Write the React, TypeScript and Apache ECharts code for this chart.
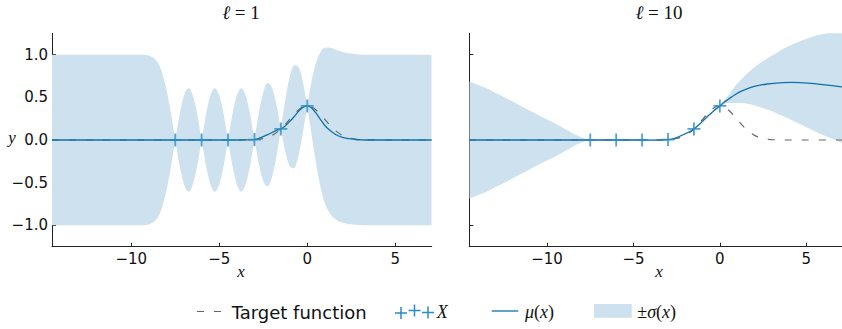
import React, { useEffect, useRef } from "react";
import * as echarts from "echarts";

// ---------- data ----------
const xTicks = [-10, -5, 0, 5];
const yTicks = [-1, -0.5, 0, 0.5, 1];

// observations X
const obsX = [-7.5, -6, -4.5, -3, -1.5, 0];
const obsY = [0, 0, 0, 0.0044, 0.1295, 0.3989];

// target function (dashed)
const targetX = [-14.5, -5, -4.5, -4, -3.5, -3, -2.75, -2.5, -2.25, -2, -1.75, -1.5, -1.25, -1, -0.75, -0.5, -0.25, 0,
  0.25, 0.5, 0.75, 1, 1.25, 1.5, 1.75, 2, 2.25, 2.5, 2.75, 3, 3.5, 4, 4.5, 5, 7.07];
const targetY = [0, 0, 0, 0.0001, 0.0009, 0.0044, 0.0091, 0.0175, 0.0317, 0.054, 0.0863, 0.1295, 0.1826, 0.242, 0.3011, 0.3521, 0.3867, 0.3989,
  0.3867, 0.3521, 0.3011, 0.242, 0.1826, 0.1295, 0.0863, 0.054, 0.0317, 0.0175, 0.0091, 0.0044, 0.0009, 0.0001, 0, 0, 0];

// panel l = 1
const x1 = [-14.5, -12, -10, -9.75, -9.5, -9.25, -9, -8.75, -8.5, -8.25, -8, -7.75, -7.5,
  -7.25, -7, -6.75, -6.5, -6.25, -6,
  -5.75, -5.5, -5.25, -5, -4.75, -4.5,
  -4.25, -4, -3.75, -3.5, -3.25, -3,
  -2.75, -2.5, -2.25, -2, -1.75, -1.5,
  -1.25, -1, -0.75, -0.5, -0.25, 0,
  0.25, 0.5, 0.75, 1, 1.25, 1.5, 1.75, 2, 2.25, 2.5, 2.75, 3, 3.5, 4, 5, 6, 7.07];
const mean1 = [0, 0, 0, 0, 0, 0, 0, 0, 0, 0, 0, 0, 0,
  0, 0, 0, 0, 0, 0,
  0, 0, 0, 0, 0, 0,
  0, 0, 0, 0.001, 0.002, 0.004,
  0.02, 0.04, 0.062, 0.088, 0.112, 0.1295,
  0.165, 0.215, 0.272, 0.335, 0.382, 0.399,
  0.375, 0.315, 0.24, 0.17, 0.12, 0.08, 0.05, 0.032, 0.02, 0.012, 0.006, 0.003, 0, 0, 0, 0, 0];
const sigma1 = [1, 1, 1, 1, 1, 0.998, 0.99, 0.965, 0.91, 0.79, 0.59, 0.32, 0,
  0.3, 0.52, 0.605, 0.52, 0.3, 0,
  0.3, 0.52, 0.605, 0.52, 0.3, 0,
  0.3, 0.52, 0.605, 0.52, 0.3, 0,
  0.3, 0.52, 0.605, 0.52, 0.3, 0,
  0.3, 0.52, 0.605, 0.52, 0.3, 0,
  0.32, 0.59, 0.79, 0.91, 0.965, 0.99, 0.998, 1, 1, 1, 1, 1, 1, 1, 1, 1, 1];

// panel l = 10
const x10 = [-14.5, -14, -13.5, -13, -12.5, -12, -11.5, -11, -10.5, -10, -9.5, -9, -8.5, -8, -7.5,
  -6.75, -6, -5.25, -4.5, -3.75, -3,
  -2.625, -2.25, -1.875, -1.5, -1.125, -0.75, -0.375, 0,
  0.25, 0.5, 0.85, 1.25, 1.8, 2.25, 2.74, 3.25, 3.68, 4.15, 4.63, 5.1, 5.57, 6.1, 6.63, 7.07];
const mean10 = [0, 0, 0, 0, 0, 0, 0, 0, 0, 0, 0, 0, 0, 0, 0,
  0, 0, 0, 0, -0.001, 0.004,
  0.02, 0.05, 0.085, 0.1295, 0.195, 0.27, 0.338, 0.399,
  0.442, 0.478, 0.528, 0.572, 0.617, 0.64, 0.656, 0.667, 0.673, 0.675, 0.673, 0.667, 0.658, 0.647, 0.634, 0.622];
const sigma10 = [0.684, 0.645, 0.605, 0.555, 0.505, 0.45, 0.395, 0.345, 0.29, 0.24, 0.19, 0.135, 0.075, 0.03, 0,
  0.012, 0, 0.012, 0, 0.01, 0,
  0.006, 0.008, 0.006, 0, 0.004, 0.005, 0.004, 0,
  0.02, 0.045, 0.095, 0.14, 0.2, 0.25, 0.3, 0.35, 0.395, 0.44, 0.485, 0.525, 0.565, 0.6, 0.63, 0.655];

// ---------- styles ----------
const BAND = "#cde2ee";
const MEAN = "#1170aa";
const MARK = "#2b8bc5";
const TARGET = "#666666";
const AXIS = "#222222";
const PLUS = "path://M4.3,0H5.7V4.3H10V5.7H5.7V10H4.3V5.7H0V4.3H4.3Z";
const SERIF = '"Liberation Serif", "DejaVu Serif", serif';
const SANS = '"DejaVu Sans", sans-serif';

const fmtX = (v: number) => (v < 0 ? "\u2212" + Math.abs(v) : String(v));
const fmtY = (v: number) => (v < -1e-9 ? "\u2212" : "") + Math.abs(v).toFixed(1);

// monotone cubic path through pixel points; corner points keep one-sided slopes
function curveCmds(pts: number[][], corner: boolean[]): string {
  const n = pts.length;
  const d: number[] = [];
  for (let i = 0; i < n - 1; i++) {
    const dx = pts[i + 1][0] - pts[i][0];
    d.push(dx === 0 ? 0 : (pts[i + 1][1] - pts[i][1]) / dx);
  }
  const mIn: number[] = [];
  const mOut: number[] = [];
  for (let i = 0; i < n; i++) {
    if (i === 0) { mIn[i] = mOut[i] = d[0]; continue; }
    if (i === n - 1) { mIn[i] = mOut[i] = d[n - 2]; continue; }
    if (corner[i]) { mIn[i] = d[i - 1]; mOut[i] = d[i]; continue; }
    let m = d[i - 1] * d[i] <= 0 ? 0 : (d[i - 1] + d[i]) / 2;
    if (m !== 0) {
      const a = m / d[i - 1];
      const b = m / d[i];
      const s = a * a + b * b;
      if (s > 9) m = (m * 3) / Math.sqrt(s);
    }
    mIn[i] = mOut[i] = m;
  }
  let s = "";
  for (let i = 0; i < n - 1; i++) {
    const [x0, y0] = pts[i];
    const [x3, y3] = pts[i + 1];
    const dx = x3 - x0;
    const c1x = x0 + dx / 3, c1y = y0 + (mOut[i] * dx) / 3;
    const c2x = x3 - dx / 3, c2y = y3 - (mIn[i + 1] * dx) / 3;
    s += `C${c1x.toFixed(2)},${c1y.toFixed(2)} ${c2x.toFixed(2)},${c2y.toFixed(2)} ${x3.toFixed(2)},${y3.toFixed(2)}`;
  }
  return s;
}

function bandRenderItem(params: any, api: any) {
  if (params.dataIndexInside !== 0) return null;
  const n = params.dataInsideLength;
  const top: number[][] = [];
  const bottom: number[][] = [];
  const corner: boolean[] = [];
  for (let i = 0; i < n; i++) {
    const x = api.value(0, i);
    const lo = api.value(1, i);
    const hi = api.value(2, i);
    top.push(api.coord([x, hi]));
    bottom.push(api.coord([x, lo]));
    corner.push(Math.abs(hi - lo) < 1e-9);
  }
  const bRev = bottom.slice().reverse();
  const cRev = corner.slice().reverse();
  const p0 = top[0];
  const pathData =
    `M${p0[0].toFixed(2)},${p0[1].toFixed(2)}` +
    curveCmds(top, corner) +
    `L${bRev[0][0].toFixed(2)},${bRev[0][1].toFixed(2)}` +
    curveCmds(bRev, cRev) +
    "Z";
  const cs = params.coordSys;
  return {
    type: "path",
    shape: { pathData },
    style: { fill: BAND, stroke: "none" },
    clipPath: { type: "rect", shape: { x: cs.x, y: cs.y, width: cs.width, height: cs.height } },
    silent: true,
  };
}

function panelSeries(g: number, xs: number[], mu: number[], sd: number[]) {
  const common = { xAxisIndex: g, yAxisIndex: g, symbol: "none", silent: true };
  return [
    {
      type: "custom", xAxisIndex: g, yAxisIndex: g, silent: true, clip: true,
      renderItem: bandRenderItem,
      data: xs.map((x, i) => [x, mu[i] - sd[i], mu[i] + sd[i]]),
      encode: { x: 0, y: [1, 2] },
      z: 1,
    },
    {
      ...common, type: "line", name: "target" + g,
      data: targetX.map((x, i) => [x, targetY[i]]),
      smooth: 0.3,
      lineStyle: { color: TARGET, width: 1.2, type: [7, 10] }, z: 2,
    },
    {
      ...common, type: "line", name: "mean" + g,
      data: xs.map((x, i) => [x, mu[i]]),
      smooth: 0.3,
      lineStyle: { color: MEAN, width: 1.3 }, z: 3,
    },
    {
      type: "scatter", xAxisIndex: g, yAxisIndex: g, silent: true,
      data: obsX.map((x, i) => [x, obsY[i]]),
      symbol: PLUS, symbolSize: 13,
      itemStyle: { color: MARK }, z: 4,
    },
  ];
}

function xAxis(g: number) {
  return {
    type: "value", gridIndex: g, min: -14.5, max: 7.07,
    axisLine: { show: true, onZero: false, lineStyle: { color: AXIS, width: 1 } },
    axisTick: { show: true, inside: true, length: 4, customValues: xTicks, lineStyle: { color: AXIS } },
    axisLabel: { show: true, customValues: xTicks, formatter: fmtX, fontSize: 15, fontFamily: SANS, color: "#111", margin: 5 },
    splitLine: { show: false },
  };
}
function yAxis(g: number, labels: boolean) {
  return {
    type: "value", gridIndex: g, min: -1.25, max: 1.25,
    axisLine: { show: true, onZero: false, lineStyle: { color: AXIS, width: 1 } },
    axisTick: { show: true, inside: true, length: 4, customValues: yTicks, lineStyle: { color: AXIS } },
    axisLabel: { show: labels, customValues: yTicks, formatter: fmtY, fontSize: 15, fontFamily: SANS, color: "#111", margin: 4 },
    splitLine: { show: false },
  };
}

function mathText(x: number, y: number, rich: string, size: number, align = "left") {
  return {
    type: "text", x, y, silent: true,
    style: {
      text: rich, align, textAlign: align, verticalAlign: "middle", textVerticalAlign: "middle",
      fill: "#111",
      rich: {
        m: { fontStyle: "italic", fontSize: size, fontFamily: SERIF, fill: "#111", color: "#111" },
        r: { fontStyle: "normal", fontSize: size, fontFamily: SERIF, fill: "#111", color: "#111" },
      },
    },
  };
}

function plusMark(cx: number, cy: number) {
  return [
    { type: "line", silent: true, shape: { x1: cx - 6, y1: cy, x2: cx + 6, y2: cy }, style: { stroke: MARK, lineWidth: 1.5 } },
    { type: "line", silent: true, shape: { x1: cx, y1: cy - 6, x2: cx, y2: cy + 6 }, style: { stroke: MARK, lineWidth: 1.5 } },
  ];
}

export default function App() {
  const ref = useRef<HTMLDivElement>(null);
  useEffect(() => {
    if (!ref.current) return;
    const chart = echarts.init(ref.current, null, { renderer: "svg" });
    const option: any = {
      animation: false,
      grid: [
        { left: 52, top: 33.3, width: 379.7, height: 213.4 },
        { left: 469.3, top: 33.3, width: 379.7, height: 213.4 },
      ],
      xAxis: [xAxis(0), xAxis(1)],
      yAxis: [yAxis(0, true), yAxis(1, false)],
      series: [...panelSeries(0, x1, mean1, sigma1), ...panelSeries(1, x10, mean10, sigma10)],
      graphic: {
        elements: [
          mathText(241, 12, "{m|\u2113}{r| = 1}", 19, "center"),
          mathText(659, 12, "{m|\u2113}{r| = 10}", 19, "center"),
          mathText(241, 271, "{m|x}", 17, "center"),
          mathText(659, 271, "{m|x}", 17, "center"),
          mathText(12, 137, "{m|y}", 17, "center"),
          // legend
          { type: "line", silent: true, shape: { x1: 197, y1: 311.5, x2: 221, y2: 311.5 }, style: { stroke: TARGET, lineWidth: 1.2, lineDash: [7, 10] } },
          {
            type: "text", x: 231.7, y: 312, silent: true,
            style: { text: "Target function", fontSize: 18, fontFamily: SANS, fill: "#111", verticalAlign: "middle", textVerticalAlign: "middle" },
          },
          ...plusMark(401, 313),
          ...plusMark(414.5, 310.5),
          ...plusMark(428, 312.5),
          mathText(436.7, 312, "{m|X}", 18),
          { type: "line", silent: true, shape: { x1: 491.7, y1: 311, x2: 518.3, y2: 311 }, style: { stroke: MEAN, lineWidth: 1.3 } },
          mathText(525, 312, "{m|\u03bc}{r|(}{m|x}{r|)}", 18),
          { type: "rect", silent: true, shape: { x: 594, y: 304, width: 37.7, height: 13.7 }, style: { fill: BAND } },
          mathText(637.3, 312, "{r|\u00b1}{m|\u03c3}{r|(}{m|x}{r|)}", 18),
        ],
      },
    };
    chart.setOption(option);
    return () => chart.dispose();
  }, []);
  return <div ref={ref} style={{ position: "absolute", left: 0, top: 0, width: 842, height: 329 }} />;
}
